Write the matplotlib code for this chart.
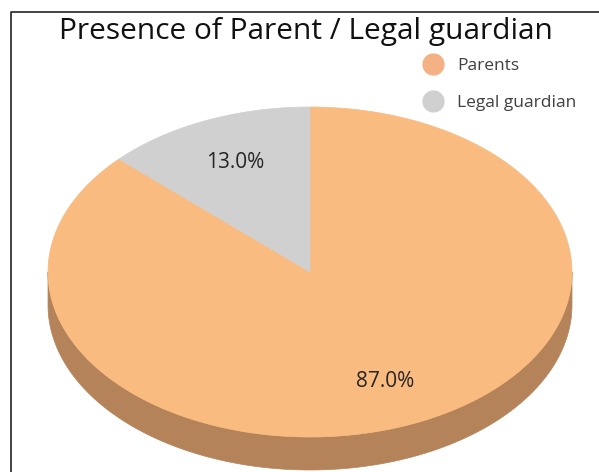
import numpy as np
import matplotlib.pyplot as plt
from matplotlib.patches import Polygon
from matplotlib.lines import Line2D

# slices in drawing order, clockwise from 12 o'clock
labels = ["Parents", "Legal guardian"]
shares = [87.0, 13.0]
top_colors = ["#F9BB80", "#D0D0D0"]
side_colors = ["#B5835A", "#8F8F8F"]
legend_colors = ["#F4B183", "#D0D0D0"]

title = "Presence of Parent / Legal guardian"

W, H = 599, 472
fig = plt.figure(figsize=(W / 100, H / 100), dpi=100)
ax = fig.add_axes([0, 0, 1, 1])
ax.set_xlim(0, W)
ax.set_ylim(H, 0)
ax.axis("off")

# pie geometry (y grows downward)
cx, cy = 310, 272
rx, ry = 262, 165
depth = 33


def rim(t):
    # t in degrees, counter-clockwise from 3 o'clock, as on screen
    r = np.radians(t)
    return cx + rx * np.cos(r), cy - ry * np.sin(r)


fracs = np.array(shares) / sum(shares)
ends = 90 - 360 * np.cumsum(fracs)
starts = np.concatenate([[90], ends[:-1]])

# side walls: only the front half (180..360 deg) shows
for s, e, col in zip(starts, ends, side_colors):
    lo, hi = min(s, e), max(s, e)
    segs = []
    for k in (-1, 0):
        a = max(lo, 180 + 360 * k)
        b = min(hi, 360 + 360 * k)
        if b > a:
            segs.append((a, b))
    for a, b in segs:
        t = np.linspace(a, b, 120)
        xs, ys = rim(t)
        pts = np.concatenate([np.column_stack([xs, ys]),
                              np.column_stack([xs[::-1], ys[::-1] + depth])])
        ax.add_patch(Polygon(pts, closed=True, facecolor=col, edgecolor=col, lw=0.5))

# top faces
for s, e, col in zip(starts, ends, top_colors):
    t = np.linspace(s, e, 300)
    xs, ys = rim(t)
    pts = np.vstack([[cx, cy], np.column_stack([xs, ys])])
    ax.add_patch(Polygon(pts, closed=True, facecolor=col, edgecolor=col, lw=0.5))

# percentage labels
for s, e, p in zip(starts, ends, shares):
    mid = np.radians((s + e) / 2)
    f = 0.72
    ax.text(cx + f * rx * np.cos(mid), cy - f * ry * np.sin(mid), f"{p:.1f}%",
            ha="center", va="center", fontsize=15, color="#262626",
            family="Open Sans")

ax.text(306, 32, title, ha="center", va="center", fontsize=21.5,
        color="#111111", family="Open Sans")

handles = [Line2D([], [], marker="o", ls="none", markersize=15,
                  markerfacecolor=c, markeredgecolor=c) for c in legend_colors]
leg = fig.legend(handles, labels, loc="upper left", bbox_to_anchor=(0.694, 0.893),
                 frameon=False, prop={"family": "Open Sans", "size": 12.5},
                 labelspacing=1.25, handlelength=1.2, handletextpad=0.8,
                 borderaxespad=0, labelcolor="#404040")

# outer frame (left and top edges)
ax.plot([11, 11, W], [H, 12, 12], color="#222222", lw=1.2)

fig.savefig("out.png", dpi=100)
